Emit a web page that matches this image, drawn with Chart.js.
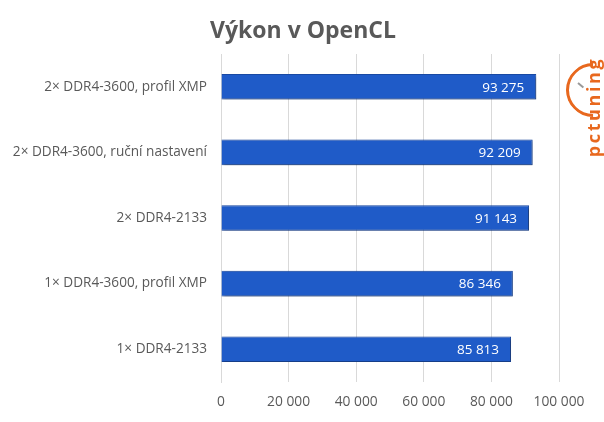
<!DOCTYPE html>
<html><head><meta charset="utf-8">
<script src="https://cdn.jsdelivr.net/npm/chart.js@4"></script>
<style>
html,body{margin:0;padding:0;background:#fff;}
#wrap{position:relative;width:604px;height:422px;}
#logo{position:absolute;left:593px;top:107px;transform:translate(-50%,-50%) rotate(-90deg);font-family:"Open Sans",sans-serif;font-weight:700;font-size:18px;color:#e8681e;letter-spacing:2.6px;white-space:nowrap;}
#gauge{position:absolute;left:566px;top:63px;width:54px;height:54px;box-sizing:border-box;border-radius:50%;border:3px solid transparent;border-left-color:#e8681e;border-top-color:#e8681e;transform:rotate(-45deg);}
#needle{position:absolute;left:578px;top:82px;width:7px;height:2px;background:#9a9a9a;transform:rotate(40deg);transform-origin:left center;}
</style></head>
<body><div id="wrap"><canvas id="c" width="604" height="422"></canvas><div id="gauge"></div><div id="needle"></div><div id="logo">pctuning</div></div>
<script>
const categories = ["2× DDR4-3600, profil XMP","2× DDR4-3600, ruční nastavení","2× DDR4-2133","1× DDR4-3600, profil XMP","1× DDR4-2133"];
const values = [93275, 92209, 91143, 86346, 85813];
const xTicks = [0, 20000, 40000, 60000, 80000, 100000];
const titleText = "Výkon v OpenCL";
const fmt = v => String(v).replace(/\B(?=(\d{3})+(?!\d))/g, "\u00a0");
const FONT = "'Open Sans', sans-serif";

const deco = {
  id:'deco',
  beforeDatasetsDraw(c){const x=c.ctx;x.save();x.shadowColor='rgba(0,0,0,0.35)';x.shadowBlur=3;x.shadowOffsetX=1.5;x.shadowOffsetY=1.5;},
  afterDatasetsDraw(c){
    c.ctx.restore();
    const x=c.ctx; const meta=c.getDatasetMeta(0);
    x.save(); x.fillStyle='#fff'; x.font="13.5px "+FONT; x.textAlign='right'; x.textBaseline='middle';
    meta.data.forEach((b,i)=>{x.fillText(fmt(values[i]), b.x-12, b.y+1);});
    x.restore();
  },
  afterDraw(c){
    const x=c.ctx; x.save(); x.fillStyle='#595959'; x.font="bold 23px "+FONT; x.textAlign='center'; x.textBaseline='middle';
    x.fillText(titleText, 303, 31); x.restore();
  }
};

new Chart(document.getElementById('c'),{
  type:'bar',
  data:{labels:categories,datasets:[{data:values,backgroundColor:'#1f5bc8',borderColor:'#1a4aa5',borderWidth:1,categoryPercentage:1,barPercentage:0.39}]},
  plugins:[deco],
  options:{
    indexAxis:'y',responsive:false,animation:false,
    layout:{padding:{left:0,right:45,top:54,bottom:0}},
    plugins:{legend:{display:false},tooltip:{enabled:false},title:{display:false}},
    scales:{
      x:{min:0,max:100000,afterBuildTicks(s){s.ticks=xTicks.map(v=>({value:v}));},
        afterFit(s){s.height=40;},
        grid:{color:'#d9d9d9',drawTicks:false},border:{display:false},
        ticks:{padding:12,color:'#595959',font:{family:FONT,size:13.8},callback:v=>fmt(v)}},
      y:{afterFit(s){s.width=221;},
        grid:{display:false,drawTicks:false},border:{display:true,color:'#d9d9d9'},
        ticks:{padding:14,color:'#595959',font:{family:FONT,size:13.6}}}
    }
  }
});
</script></body></html>
